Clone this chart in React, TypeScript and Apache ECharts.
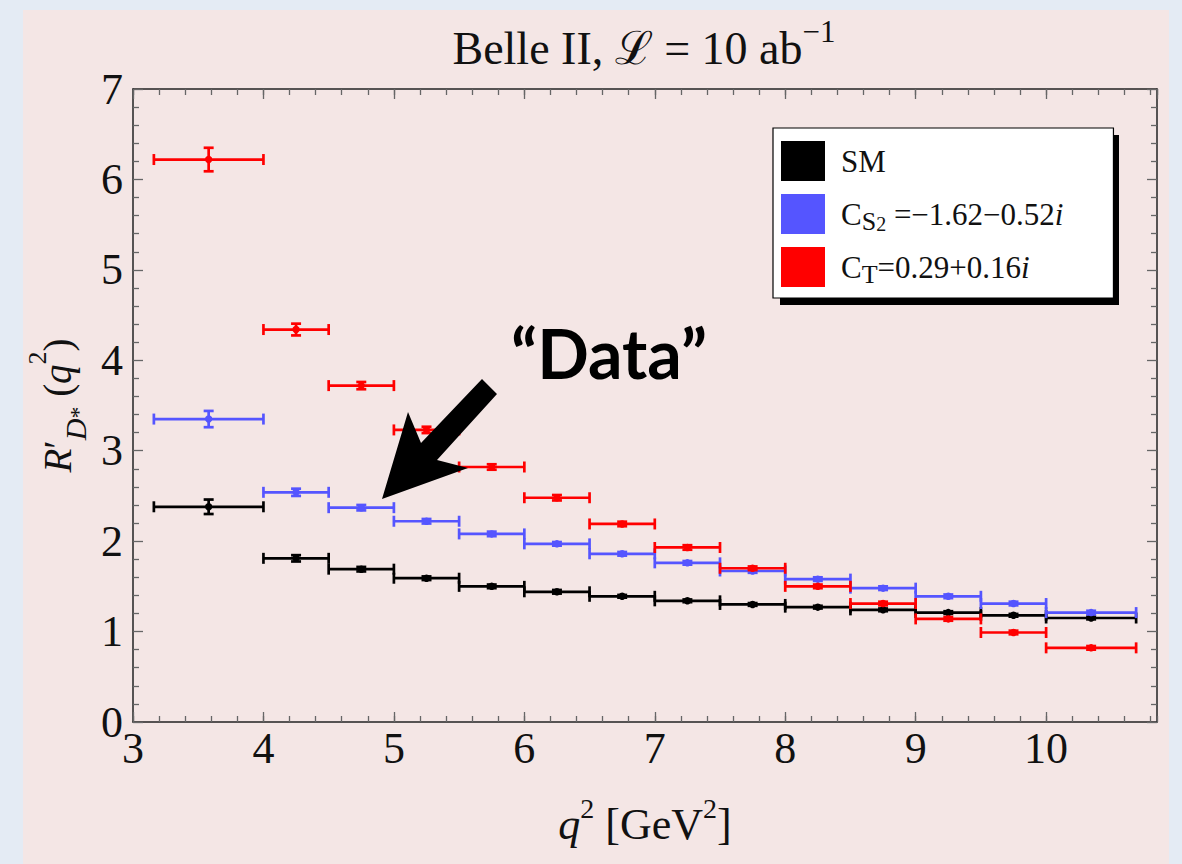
import React, { useEffect, useRef } from "react";
import * as echarts from "echarts";

// q^2 bins [GeV^2]
const binLow = [3.16, 4.0, 4.5, 5.0, 5.5, 6.0, 6.5, 7.0, 7.5, 8.0, 8.5, 9.0, 9.5, 10.0];
const binHigh = [4.0, 4.5, 5.0, 5.5, 6.0, 6.5, 7.0, 7.5, 8.0, 8.5, 9.0, 9.5, 10.0, 10.69];

// R'_{D*}(q^2) per bin, with statistical errors
const smValues = [2.38, 1.81, 1.69, 1.59, 1.5, 1.44, 1.39, 1.34, 1.3, 1.27, 1.24, 1.21, 1.18, 1.15];
const smErrors = [0.08, 0.035, 0.025, 0.02, 0.02, 0.02, 0.015, 0.015, 0.015, 0.015, 0.015, 0.015, 0.015, 0.015];
const cs2Values = [3.35, 2.54, 2.37, 2.22, 2.08, 1.97, 1.86, 1.76, 1.67, 1.58, 1.48, 1.39, 1.31, 1.21];
const cs2Errors = [0.09, 0.04, 0.03, 0.025, 0.025, 0.02, 0.02, 0.02, 0.02, 0.02, 0.02, 0.02, 0.02, 0.02];
const ctValues = [6.22, 4.34, 3.72, 3.23, 2.82, 2.48, 2.19, 1.93, 1.7, 1.5, 1.31, 1.14, 0.99, 0.82];
const ctErrors = [0.13, 0.065, 0.04, 0.035, 0.03, 0.03, 0.025, 0.025, 0.02, 0.02, 0.02, 0.02, 0.02, 0.02];

const seriesNames = ["SM", "C_S2 = −1.62−0.52i", "C_T = 0.29+0.16i"];
const legendLabels = [
  "{t|SM}",
  "{t|C}{s|S}{ss|2}{t| =−1.62−0.52}{i|i}",
  "{t|C}{s|T}{t|=0.29+0.16}{i|i}",
];
const seriesColors = ["#000000", "#5555ff", "#ff0000"];

const xMin = 3;
const xMax = 10.85;
const yMin = 0;
const yMax = 7;

const SERIF = "'Liberation Serif', 'DejaVu Serif', serif";

function buildData(values: number[], errors: number[]) {
  return values.map((v, i) => [binLow[i], binHigh[i], v, errors[i]]);
}

function renderBin(params: any, api: any) {
  const x0 = api.value(0);
  const x1 = api.value(1);
  const y = api.value(2);
  const e = api.value(3);
  const xc = (x0 + x1) / 2;
  const pL = api.coord([x0, y]);
  const pR = api.coord([x1, y]);
  const pC = api.coord([xc, y]);
  const pT = api.coord([xc, y + e]);
  const pB = api.coord([xc, y - e]);
  const color = api.visual("color");
  const style = { stroke: color, lineWidth: 2.7, fill: null };
  const cap = 5.5;
  const ecap = 5;
  return {
    type: "group",
    children: [
      { type: "line", shape: { x1: pL[0], y1: pL[1], x2: pR[0], y2: pR[1] }, style },
      { type: "line", shape: { x1: pL[0], y1: pL[1] - cap, x2: pL[0], y2: pL[1] + cap }, style },
      { type: "line", shape: { x1: pR[0], y1: pR[1] - cap, x2: pR[0], y2: pR[1] + cap }, style },
      { type: "line", shape: { x1: pT[0], y1: pT[1], x2: pB[0], y2: pB[1] }, style },
      { type: "line", shape: { x1: pT[0] - ecap, y1: pT[1], x2: pT[0] + ecap, y2: pT[1] }, style },
      { type: "line", shape: { x1: pB[0] - ecap, y1: pB[1], x2: pB[0] + ecap, y2: pB[1] }, style },
      { type: "circle", shape: { cx: pC[0], cy: pC[1], r: 3.7 }, style: { fill: color } },
    ],
  };
}

const axisLineStyle = { color: "#222", width: 1.5 };
const tickStyle = { color: "#666", width: 1.3 };

export default function App() {
  const ref = useRef<HTMLDivElement>(null);

  useEffect(() => {
    if (!ref.current) return;
    const chart = echarts.init(ref.current, undefined, { renderer: "svg" });

    const valueSets = [
      buildData(smValues, smErrors),
      buildData(cs2Values, cs2Errors),
      buildData(ctValues, ctErrors),
    ];

    const option: any = {
      animation: false,
      backgroundColor: "#f4e6e5",
      title: {
        text: "Belle II, {t|ℒ} = 10 ab{sup|−1}",
        left: 644,
        top: 16,
        padding: 0,
        textAlign: "center",
        textStyle: {
          fontFamily: SERIF,
          fontSize: 46,
          fontWeight: "normal",
          color: "#111",
          lineHeight: 64,
          rich: {
            t: { fontFamily: SERIF, fontSize: 46, lineHeight: 64, color: "#111" },
            sup: { fontFamily: SERIF, fontSize: 31, lineHeight: 28, verticalAlign: "top", color: "#111" },
          },
        },
      },
      grid: { left: 133, right: 25, top: 89, bottom: 142, containLabel: false },
      legend: {
        show: true,
        orient: "vertical",
        left: 773,
        top: 128,
        padding: [13, 50, 11, 8],
        itemWidth: 44,
        itemHeight: 40,
        itemGap: 13,
        icon: "rect",
        selectedMode: false,
        backgroundColor: "#ffffff",
        borderColor: "#000",
        borderWidth: 1.2,
        data: seriesNames,
        formatter: (name: string) => legendLabels[seriesNames.indexOf(name)],
        textStyle: {
          padding: [0, 0, 0, 11],
          fontFamily: SERIF,
          fontSize: 31,
          color: "#111",
          rich: {
            t: { fontFamily: SERIF, fontSize: 31, lineHeight: 40, color: "#111" },
            i: { fontFamily: SERIF, fontSize: 31, lineHeight: 40, fontStyle: "italic", color: "#111" },
            s: { fontFamily: SERIF, fontSize: 26, lineHeight: 30, verticalAlign: "bottom", color: "#111" },
            ss: { fontFamily: SERIF, fontSize: 20, lineHeight: 16, verticalAlign: "bottom", color: "#111" },
          },
        },
      },
      xAxis: [
        {
          type: "value",
          position: "bottom",
          min: xMin,
          max: xMax,
          interval: 1,
          axisLine: { show: true, lineStyle: axisLineStyle },
          axisTick: { show: true, inside: true, length: 10, lineStyle: tickStyle },
          splitLine: { show: false },
          axisLabel: {
            show: true,
            showMaxLabel: false,
            margin: 4,
            fontFamily: SERIF,
            fontSize: 44,
            lineHeight: 44,
            color: "#111",
          },
          name: "{it|q}{sup|2}{t| [GeV}{sup|2}{t|]}",
          nameLocation: "middle",
          nameGap: 72,
          nameTextStyle: {
            fontFamily: SERIF,
            fontSize: 44,
            color: "#111",
            rich: {
              t: { fontFamily: SERIF, fontSize: 44, lineHeight: 60, color: "#111" },
              it: { fontFamily: SERIF, fontSize: 44, lineHeight: 60, fontStyle: "italic", color: "#111" },
              sup: { fontFamily: SERIF, fontSize: 28, lineHeight: 28, verticalAlign: "top", color: "#111" },
            },
          },
        },
        {
          type: "value",
          position: "bottom",
          min: xMin,
          max: xMax,
          interval: 0.2,
          axisLine: { show: false },
          axisTick: { show: true, inside: true, length: 6, lineStyle: tickStyle },
          axisLabel: { show: false },
          splitLine: { show: false },
        },
        {
          type: "value",
          position: "top",
          min: xMin,
          max: xMax,
          interval: 1,
          axisLine: { show: true, lineStyle: axisLineStyle },
          axisTick: { show: true, inside: true, length: 10, lineStyle: tickStyle },
          axisLabel: { show: false },
          splitLine: { show: false },
        },
        {
          type: "value",
          position: "top",
          min: xMin,
          max: xMax,
          interval: 0.2,
          axisLine: { show: false },
          axisTick: { show: true, inside: true, length: 6, lineStyle: tickStyle },
          axisLabel: { show: false },
          splitLine: { show: false },
        },
      ],
      yAxis: [
        {
          type: "value",
          position: "left",
          min: yMin,
          max: yMax,
          interval: 1,
          axisLine: { show: true, lineStyle: axisLineStyle },
          axisTick: { show: true, inside: true, length: 10, lineStyle: tickStyle },
          minorTick: { show: true, splitNumber: 5, length: 6, lineStyle: tickStyle },
          splitLine: { show: false },
          axisLabel: {
            show: true,
            margin: 10,
            fontFamily: SERIF,
            fontSize: 44,
            color: "#111",
            padding: [0, 0, 10, 0],
          },
          name: "{it|R}{t|′}{sub|D}{star|*}{t| (}{it|q}{sup|2}{t|)}",
          nameLocation: "middle",
          nameRotate: 90,
          nameGap: 43,
          nameTextStyle: {
            fontFamily: SERIF,
            fontSize: 39,
            color: "#111",
            rich: {
              t: { fontFamily: SERIF, fontSize: 39, lineHeight: 66, color: "#111" },
              it: { fontFamily: SERIF, fontSize: 39, lineHeight: 66, fontStyle: "italic", color: "#111" },
              sub: { fontFamily: SERIF, fontSize: 30, lineHeight: 38, verticalAlign: "bottom", fontStyle: "italic", color: "#111" },
              star: { fontFamily: SERIF, fontSize: 24, lineHeight: 44, verticalAlign: "bottom", color: "#111" },
              sup: { fontFamily: SERIF, fontSize: 26, lineHeight: 42, verticalAlign: "top", color: "#111" },
            },
          },
        },
        {
          type: "value",
          position: "right",
          min: yMin,
          max: yMax,
          interval: 1,
          axisLine: { show: true, lineStyle: axisLineStyle },
          axisTick: { show: true, inside: true, length: 10, lineStyle: tickStyle },
          minorTick: { show: true, splitNumber: 5, length: 6, lineStyle: tickStyle },
          splitLine: { show: false },
          axisLabel: { show: false },
        },
      ],
      graphic: [
        // outer page background strips
        { type: "rect", z: 0, shape: { x: 0, y: 0, width: 23, height: 864 }, style: { fill: "#e4ebf4" } },
        { type: "rect", z: 0, shape: { x: 0, y: 0, width: 1182, height: 10 }, style: { fill: "#e4ebf4" } },
        { type: "rect", z: 0, shape: { x: 1169, y: 0, width: 13, height: 864 }, style: { fill: "#e4ebf4" } },
        // legend drop shadow
        { type: "rect", z: 3, shape: { x: 780, y: 135, width: 339, height: 170 }, style: { fill: "#000" } },
        // arrow annotation
        {
          type: "polygon",
          z: 100,
          shape: {
            points: [
              [382, 499],
              [408, 412],
              [421, 443],
              [482, 379],
              [497, 394],
              [437, 460],
              [468, 468],
            ],
          },
          style: { fill: "#000" },
        },
        {
          type: "text",
          z: 100,
          x: 609,
          y: 352,
          style: {
            text: "“Data”",
            fontFamily: "Lato, 'DejaVu Sans', sans-serif",
            fontWeight: "bold",
            fontSize: 68,
            fill: "#000",
            align: "center",
            verticalAlign: "middle",
          },
        },
      ],
      series: seriesNames.map((name, k) => ({
        name,
        type: "custom",
        xAxisIndex: 0,
        yAxisIndex: 0,
        z: 2 + k,
        itemStyle: { color: seriesColors[k] },
        renderItem: renderBin,
        encode: { x: [0, 1], y: [2] },
        data: valueSets[k],
      })),
    };

    chart.setOption(option);
    return () => chart.dispose();
  }, []);

  return (
    <div
      ref={ref}
      style={{ position: "absolute", left: 0, top: 0, width: 1182, height: 864 }}
    />
  );
}
